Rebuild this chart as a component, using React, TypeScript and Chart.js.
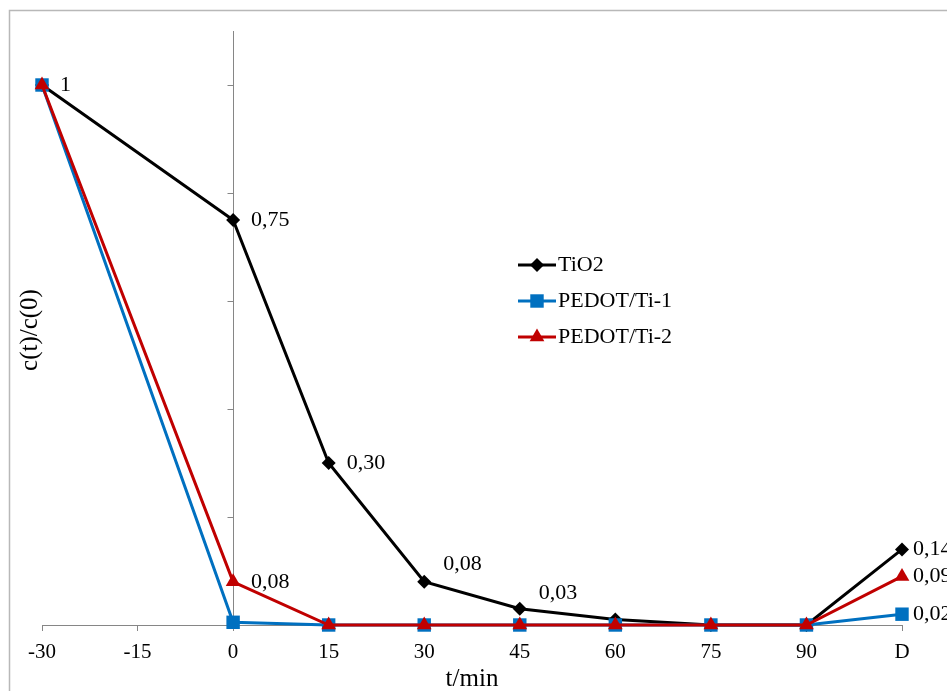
import React, { useEffect, useRef } from 'react';
import { Chart, registerables } from 'chart.js';

Chart.register(...registerables);

// ---------- data ----------
const CATEGORIES = ['-30', '-15', '0', '15', '30', '45', '60', '75', '90', 'D'];
const SERIES_NAMES = ['TiO2', 'PEDOT/Ti-1', 'PEDOT/Ti-2'];
const TIO2 = [1, null, 0.75, 0.3, 0.08, 0.03, 0.01, 0, 0, 0.14];
const PEDOT_TI1 = [1, null, 0.005, 0, 0, 0, 0, 0, 0, 0.02];
const PEDOT_TI2 = [1, null, 0.08, 0, 0, 0, 0, 0, 0, 0.09];
const TIO2_LABELS = ['1', null, '0,75', '0,30', '0,08', '0,03', null, null, null, '0,14'];
const PEDOT_TI1_LABELS = [null, null, null, null, null, null, null, null, null, '0,02'];
const PEDOT_TI2_LABELS = [null, null, '0,08', null, null, null, null, null, null, '0,09'];
const Y_TICKS = [0.2, 0.4, 0.6, 0.8, 1.0];
const Y_MIN = 0;
const Y_MAX = 1.1;
const X_TITLE = 't/min';
const Y_TITLE = 'c(t)/c(0)';
const Y_AXIS_AT = '0';

// ---------- styles ----------
const FONT = "'Liberation Serif', 'Times New Roman', serif";
const AXIS_COLOR = '#868686';
const COLORS = ['#000000', '#0070C0', '#C00000'];
const STYLES = ['rectRot', 'rect', 'triangle'];
const RADII = [7, 9.5, 8.5];
// label placement tweaks (dx, dy) per series / index
const LABEL_SHIFT: Record<string, [number, number]> = {
  '0-4': [19, -18],
  '0-5': [19, -16],
  '0-9': [11, 0],
  '1-9': [11, 0],
  '2-9': [11, 0],
};
const LABEL_DX = 18;
const LABEL_SETS = [TIO2_LABELS, PEDOT_TI1_LABELS, PEDOT_TI2_LABELS];

function drawMarker(ctx: CanvasRenderingContext2D, style: string, x: number, y: number, r: number, color: string) {
  ctx.save();
  ctx.fillStyle = color;
  ctx.beginPath();
  if (style === 'rectRot') {
    ctx.moveTo(x, y - r);
    ctx.lineTo(x + r, y);
    ctx.lineTo(x, y + r);
    ctx.lineTo(x - r, y);
    ctx.closePath();
  } else if (style === 'rect') {
    const s = Math.SQRT1_2 * r;
    ctx.rect(x - s, y - s, 2 * s, 2 * s);
  } else {
    for (let k = 0; k < 3; k++) {
      const a = (k * 2 * Math.PI) / 3;
      const px = x + Math.sin(a) * r;
      const py = y - Math.cos(a) * r;
      if (k === 0) ctx.moveTo(px, py);
      else ctx.lineTo(px, py);
    }
    ctx.closePath();
  }
  ctx.fill();
  ctx.restore();
}

const decorPlugin = {
  id: 'decor',
  beforeDraw(chart: any) {
    const ctx = chart.ctx as CanvasRenderingContext2D;
    ctx.save();
    ctx.fillStyle = '#ffffff';
    ctx.fillRect(0, 0, chart.width, chart.height);
    ctx.strokeStyle = '#b8b8b8';
    ctx.lineWidth = 1.5;
    ctx.strokeRect(9.5, 10.5, chart.width + 40, chart.height + 40);
    ctx.restore();
  },
  beforeDatasetsDraw(chart: any) {
    const ctx = chart.ctx as CanvasRenderingContext2D;
    const xs = chart.scales.x;
    const ys = chart.scales.y;
    const x = Math.round(xs.getPixelForValue(CATEGORIES.indexOf(Y_AXIS_AT))) + 0.5;
    ctx.save();
    ctx.strokeStyle = AXIS_COLOR;
    ctx.lineWidth = 1;
    ctx.beginPath();
    ctx.moveTo(x, ys.top);
    ctx.lineTo(x, ys.bottom);
    for (const v of Y_TICKS) {
      const py = Math.round(ys.getPixelForValue(v)) + 0.5;
      ctx.moveTo(x - 6, py);
      ctx.lineTo(x, py);
    }
    ctx.stroke();
    // y title
    ctx.translate(30, (ys.top + ys.bottom) / 2 + 2);
    ctx.rotate(-Math.PI / 2);
    ctx.fillStyle = '#000';
    ctx.font = `25px ${FONT}`;
    ctx.textAlign = 'center';
    ctx.textBaseline = 'middle';
    ctx.fillText(Y_TITLE, 0, 0);
    ctx.restore();
  },
  afterDatasetsDraw(chart: any) {
    const ctx = chart.ctx as CanvasRenderingContext2D;
    ctx.save();
    ctx.font = `22px ${FONT}`;
    ctx.fillStyle = '#000';
    ctx.textAlign = 'left';
    ctx.textBaseline = 'middle';
    LABEL_SETS.forEach((labels, di) => {
      const meta = chart.getDatasetMeta(di);
      labels.forEach((txt, i) => {
        if (!txt) return;
        const pt = meta.data[i];
        if (!pt) return;
        const shift = LABEL_SHIFT[`${di}-${i}`] || [LABEL_DX, 0];
        ctx.fillText(txt, pt.x + shift[0], pt.y + shift[1]);
      });
    });
    // legend
    const lx = 518;
    const ly = 265;
    const row = 36;
    chart.data.datasets.forEach((ds: any, i: number) => {
      const y = ly + i * row;
      ctx.strokeStyle = ds.borderColor;
      ctx.lineWidth = 3;
      ctx.beginPath();
      ctx.moveTo(lx, y);
      ctx.lineTo(lx + 38, y);
      ctx.stroke();
      drawMarker(ctx, ds.pointStyle, lx + 19, y, ds.pointRadius, ds.borderColor);
      ctx.fillStyle = '#000';
      ctx.fillText(ds.label, lx + 40, y);
    });
    ctx.restore();
  },
};

export default function App() {
  const canvasRef = useRef<HTMLCanvasElement | null>(null);

  useEffect(() => {
    if (!canvasRef.current) return;
    const seriesData = [TIO2, PEDOT_TI1, PEDOT_TI2];
    const datasets = seriesData.map((d, i) => ({
      label: SERIES_NAMES[i],
      data: d,
      borderColor: COLORS[i],
      backgroundColor: COLORS[i],
      pointBackgroundColor: COLORS[i],
      pointBorderColor: COLORS[i],
      pointBorderWidth: 0,
      pointStyle: STYLES[i],
      pointRadius: RADII[i],
      borderWidth: 3,
      tension: 0,
      spanGaps: true,
      clip: false as any,
      order: 3 - i,
    }));
    const chart = new Chart(canvasRef.current, {
      type: 'line',
      data: { labels: CATEGORIES, datasets: datasets as any },
      options: {
        responsive: false,
        animation: false,
        events: [],
        layout: { padding: { left: 42, right: 45, top: 31, bottom: 0 } },
        plugins: {
          legend: { display: false },
          tooltip: { enabled: false },
        },
        scales: {
          x: {
            type: 'category',
            offset: false,
            grid: {
              display: true,
              drawOnChartArea: false,
              drawTicks: true,
              tickLength: 6,
              color: AXIS_COLOR,
            },
            border: { display: true, color: AXIS_COLOR, width: 1 },
            ticks: {
              color: '#000',
              font: { family: FONT, size: 21, lineHeight: 1.2 },
              padding: 8.4,
              autoSkip: false,
              maxRotation: 0,
            },
            title: {
              display: true,
              text: X_TITLE,
              color: '#000',
              font: { family: FONT, size: 25, lineHeight: 0.48 },
              padding: { top: 0, bottom: 6 },
            },
          },
          y: {
            display: false,
            min: Y_MIN,
            max: Y_MAX,
          },
        },
      },
      plugins: [decorPlugin],
    });
    return () => chart.destroy();
  }, []);

  return (
    <div style={{ position: 'absolute', left: 0, top: 0, width: 947, height: 691 }}>
      <canvas ref={canvasRef} width={947} height={691} style={{ display: 'block' }} />
    </div>
  );
}
